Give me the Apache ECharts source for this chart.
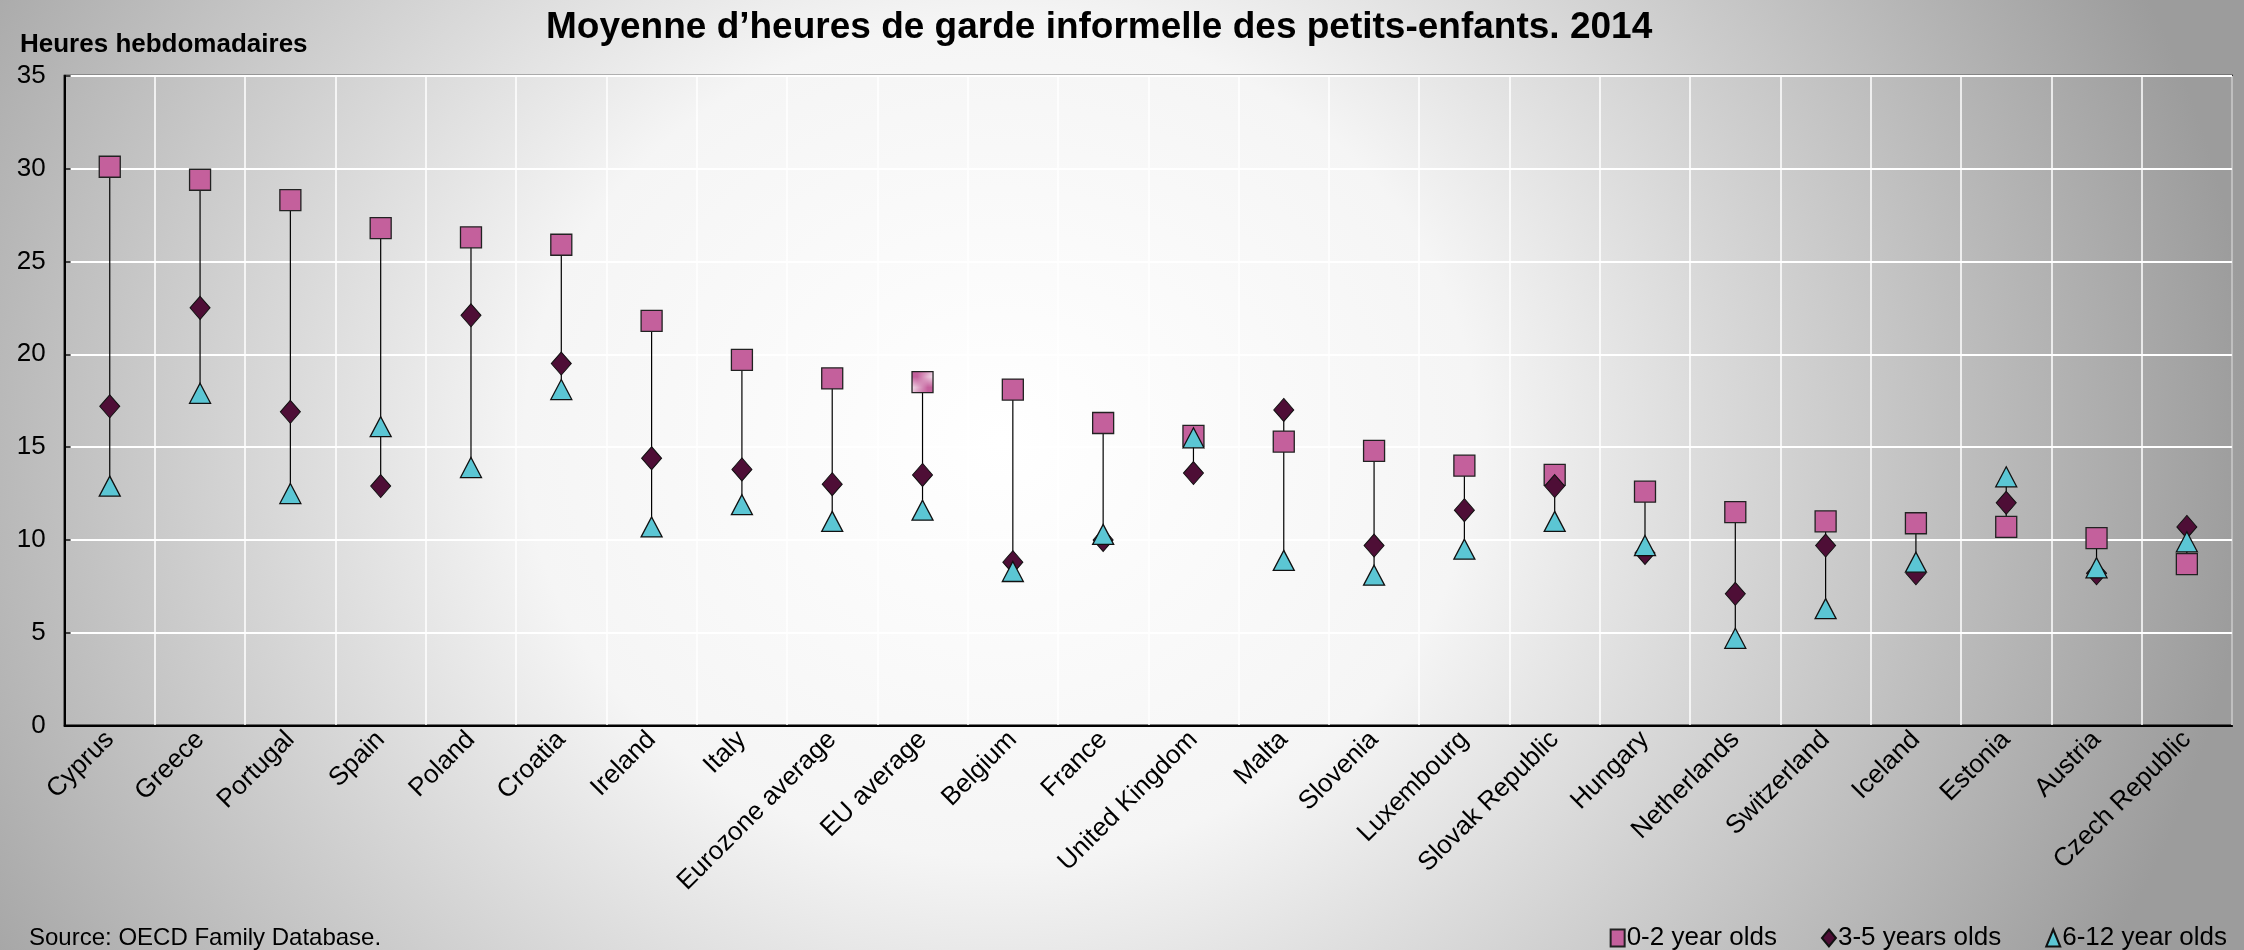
<!DOCTYPE html>
<html>
<head>
<meta charset="utf-8">
<script src="https://cdn.jsdelivr.net/npm/echarts@6/dist/echarts.min.js"></script>
<style>
html,body{margin:0;padding:0;background:#fff;}
#chart{width:2244px;height:950px;}
</style>
</head>
<body>
<div id="chart"></div>
<script>
const categories = ["Cyprus","Greece","Portugal","Spain","Poland","Croatia","Ireland","Italy","Eurozone average","EU average","Belgium","France","United Kingdom","Malta","Slovenia","Luxembourg","Slovak Republic","Hungary","Netherlands","Switzerland","Iceland","Estonia","Austria","Czech Republic"];
const age0to2 = [30.1,29.4,28.3,26.8,26.3,25.9,21.8,19.7,18.7,18.5,18.1,16.3,15.6,15.3,14.8,14.0,13.5,12.6,11.5,11.0,10.9,10.7,10.1,8.7];
const age3to5 = [17.2,22.5,16.9,12.9,22.1,19.5,14.4,13.8,13.0,13.5,8.8,10.0,13.6,17.0,9.7,11.6,12.9,9.3,7.1,9.7,8.2,12.0,8.2,10.7];
const age6to12 = [12.9,17.9,12.5,16.1,13.9,18.1,10.7,11.9,11.0,11.6,8.3,10.3,15.5,8.9,8.1,9.5,11.0,9.7,4.7,6.3,8.8,13.4,8.5,9.9];
const seriesNames = ["0-2 year olds","3-5 years olds","6-12 year olds"];
const yTicks = {min:0,max:35,interval:5};
const hatchedCategory = "EU average";

const FONT = "'Liberation Sans', Arial, sans-serif";
const PINK = "#C4609C", PLUM = "#4E0E36", CYAN = "#5BC6D4";

// hatched pattern
const pat = document.createElement('canvas');
pat.width = 8; pat.height = 8;
const pc = pat.getContext('2d');
pc.fillStyle = '#fff'; pc.fillRect(0,0,8,8);
pc.strokeStyle = PINK; pc.lineWidth = 3.2;
for (const k of [-8,0,8]) { pc.beginPath(); pc.moveTo(k,0); pc.lineTo(k+8,8); pc.stroke(); }

const rangeData = categories.map((c,i)=>{
  const v=[age0to2[i],age3to5[i],age6to12[i]];
  return [i, Math.min(...v), Math.max(...v)];
});

const sqData = age0to2.map((v,i)=> categories[i]===hatchedCategory
  ? {value:v, itemStyle:{color:{image:pat, repeat:'repeat'}}} : v);

const chart = echarts.init(document.getElementById('chart'), null, {renderer:'canvas'});
const sx = 1.14;
chart.setOption({
  backgroundColor: 'transparent',
  animation: false,
  graphic: [{
    type:'rect', z:-100, silent:true, scaleX: sx, x:0, y:0,
    shape:{x:0,y:0,width:2244/sx,height:950},
    style:{fill:{type:'radial', global:true, x:1000/sx, y:440, r:1100,
      colorStops:[{offset:0,color:'#ffffff'},{offset:0.38,color:'#f5f5f5'},{offset:1,color:'#9c9c9c'}]}}
  }],
  textStyle:{fontFamily:FONT},
  title:[
    {text:'Moyenne d’heures de garde informelle des petits-enfants. 2014', left:541, top:4,
     textStyle:{fontFamily:FONT,fontWeight:'bold',fontSize:37,color:'#000'}},
    {text:'Heures hebdomadaires', left:15, top:27,
     textStyle:{fontFamily:FONT,fontWeight:'bold',fontSize:26,color:'#000'}},
    {text:'Source: OECD Family Database.', left:24, top:921,
     textStyle:{fontFamily:FONT,fontWeight:'normal',fontSize:24,color:'#000'}}
  ],
  legend:{
    data:[{name:seriesNames[0],icon:'rect'},{name:seriesNames[1],icon:'diamond'},{name:seriesNames[2],icon:'triangle'}],
    right:12, top:920, itemGap:44, itemWidth:14, itemHeight:17,
    textStyle:{fontFamily:FONT,fontSize:26,color:'#000',padding:[0,0,0,-3]}
  },
  grid:{left:64.6,right:12,top:75.8,bottom:224.4,show:true,borderColor:'#000',borderWidth:2,backgroundColor:'transparent'},
  xAxis:{
    type:'category', data:categories, boundaryGap:true,
    axisLine:{lineStyle:{color:'#000',width:2}},
    axisTick:{inside:true,length:7,lineStyle:{color:'#000',width:1.5}},
    splitLine:{show:true,lineStyle:{color:'#fff',width:1.5}},
    axisLabel:{rotate:45,fontSize:26,color:'#000',fontFamily:FONT,margin:10,interval:0}
  },
  yAxis:{
    type:'value', min:yTicks.min, max:yTicks.max, interval:yTicks.interval,
    axisLine:{show:true,lineStyle:{color:'#000',width:2}},
    axisTick:{show:true,inside:true,length:6,lineStyle:{color:'#000',width:1.5}},
    splitLine:{show:true,lineStyle:{color:'#fff',width:2}},
    axisLabel:{fontSize:26,color:'#000',fontFamily:FONT,margin:19}
  },
  series:[
    {type:'custom', name:'range', data:rangeData, encode:{x:0,y:[1,2]}, z:1, silent:true,
     renderItem:function(params, api){
       const p1 = api.coord([api.value(0), api.value(1)]);
       const p2 = api.coord([api.value(0), api.value(2)]);
       return {type:'line', shape:{x1:p1[0],y1:p1[1],x2:p2[0],y2:p2[1]}, style:{stroke:'#000',lineWidth:1.2}};
     }},
    {type:'scatter', name:seriesNames[0], data:sqData, symbol:'rect', symbolSize:[21,21], z:2,
     itemStyle:{color:PINK,borderColor:'#222',borderWidth:1.3,opacity:1}},
    {type:'scatter', name:seriesNames[1], data:age3to5, symbol:'diamond', symbolSize:[20,23], z:3,
     itemStyle:{color:PLUM,borderColor:'#111',borderWidth:1,opacity:1}},
    {type:'scatter', name:seriesNames[2], data:age6to12, symbol:'triangle', symbolSize:[21,20], z:4,
     itemStyle:{color:CYAN,borderColor:'#111',borderWidth:1.3,opacity:1}}
  ]
});
</script>
</body>
</html>
